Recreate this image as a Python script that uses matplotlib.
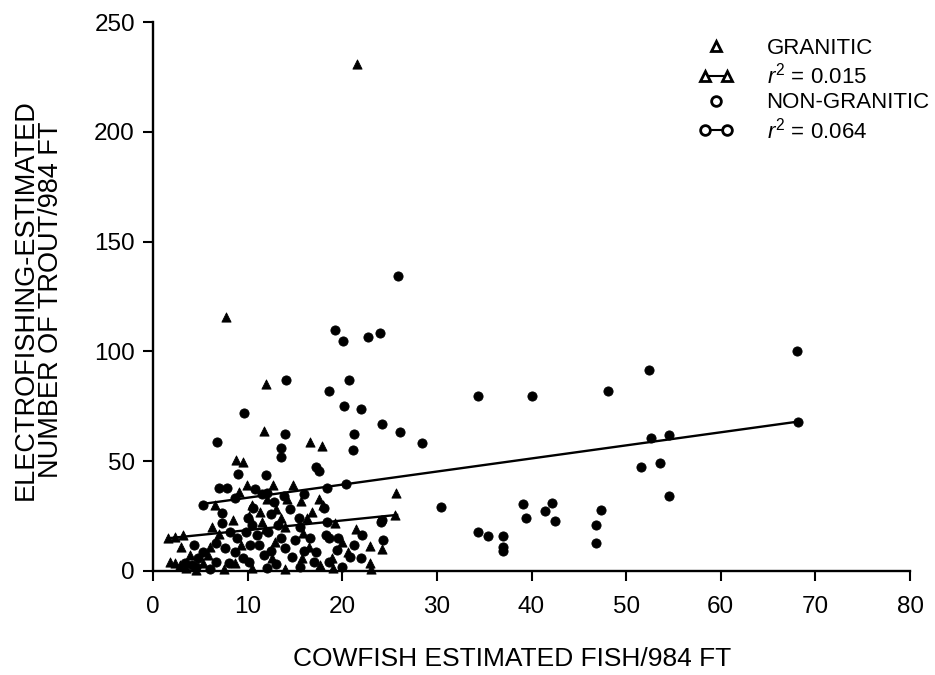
import numpy as np
import matplotlib
matplotlib.use("Agg")
import matplotlib.pyplot as plt
from matplotlib.lines import Line2D
from matplotlib.legend_handler import HandlerLine2D

plt.rcParams['font.family'] = ['Liberation Sans', 'DejaVu Sans']
plt.rcParams['mathtext.fontset'] = 'custom'
plt.rcParams['mathtext.rm'] = 'Liberation Sans'
plt.rcParams['mathtext.it'] = 'Liberation Sans:italic'

# granitic streams (triangles): cowfish estimate, electrofishing estimate
granitic_x = [21.6, 7.7, 11.9, 11.7, 16.6, 17.9, 8.8, 9.5, 12.7, 14.8, 9.9, 9.1,
              15.6, 25.7, 6.6, 6.2, 2.3, 3.2, 3.0, 3.9, 5.8, 1.8, 2.3, 5.3, 2.9,
              8.7, 12.6, 15.8, 13.5, 16.3, 15.9, 11.5, 12.9, 22.9, 20.6, 17.7,
              22.9, 18.0, 25.6, 1.6, 7.5, 10.5, 14.0, 19.0, 23.0, 4.5, 3.5,
              10.5, 11.3, 12.0, 13.0, 14.2, 10.2, 14.0, 11.8, 16.8, 17.5, 19.2,
              20.0, 21.5, 24.2, 18.9, 16.5, 7.0, 8.5, 9.3, 6.0]
granitic_y = [231.0, 115.8, 85.0, 63.8, 58.9, 56.8, 50.5, 49.5, 39.0, 39.2, 39.2, 36.1,
              31.9, 35.5, 30.1, 20.2, 15.6, 16.4, 11.1, 7.3, 7.3, 4.2, 3.5, 3.5, 2.7,
              3.5, 5.8, 5.8, 24.0, 24.0, 17.2, 22.5, 13.4, 11.5, 8.8, 2.7,
              3.5, 30.1, 25.5, 14.9, 1.0, 1.5, 1.0, 1.5, 1.0, 0.5, 1.5,
              30.0, 27.0, 33.0, 28.0, 33.0, 25.0, 20.0, 19.0, 27.0, 33.0, 22.0,
              13.0, 19.0, 10.0, 6.0, 11.0, 17.0, 23.0, 12.0, 11.0]

# non-granitic streams (circles)
nongranitic_x = [25.9, 19.2, 20.1, 22.7, 24.0, 14.1, 20.7, 18.6, 9.6, 20.2, 22.0, 24.2,
                 26.1, 14.0, 6.8, 21.2, 21.1, 13.5, 13.5, 17.2, 17.5, 11.9, 9.0, 28.4,
                 68.1, 52.4, 34.3, 40.1, 48.1, 68.2, 52.6, 54.5, 51.6, 53.6, 54.5,
                 30.4, 39.1, 42.2, 39.4, 41.4, 42.5, 47.3, 46.8, 46.8, 34.3, 35.4,
                 37.0, 37.0, 37.0, 24.3, 24.2,
                 7.0, 7.8, 5.3, 7.3, 7.3, 8.1, 4.3, 5.3, 6.7, 7.6, 4.8, 3.4, 4.1,
                 6.7, 8.0, 4.6, 8.7, 12.8, 10.6, 15.4, 10.5, 9.8, 11.0, 12.2, 8.9,
                 10.3, 14.0, 15.0, 16.6, 8.7, 11.7, 14.7, 10.1, 17.0, 18.1, 18.4,
                 18.3, 18.6, 19.6, 22.1, 19.4, 21.2, 20.8, 17.2, 18.6, 18.4, 20.4,
                 24.1, 11.5, 12.5, 13.2, 14.5, 10.0, 11.2, 12.5, 13.5, 15.5, 16.0,
                 9.5, 13.0, 15.5, 12.0, 6.0, 20.0, 22.0, 10.8, 12.0, 13.8, 16.0]
nongranitic_y = [134.3, 109.7, 104.7, 106.7, 108.2, 86.8, 87.0, 82.0, 71.8, 75.3, 73.8, 67.1,
                 63.4, 62.2, 58.7, 62.4, 55.0, 56.0, 52.0, 47.5, 45.5, 43.7, 44.2, 58.5,
                 100.3, 91.5, 79.8, 79.8, 82.0, 68.0, 60.7, 61.9, 47.2, 49.0, 34.2,
                 29.0, 30.7, 31.0, 24.3, 27.5, 22.6, 27.6, 20.9, 12.8, 17.8, 15.9,
                 15.9, 11.0, 9.0, 14.1, 23.2,
                 37.7, 37.7, 30.1, 26.3, 21.7, 17.9, 11.8, 8.8, 12.6, 10.3, 5.8, 3.5, 2.7,
                 4.2, 3.5, 2.0, 33.1, 31.6, 28.5, 24.0, 21.0, 17.9, 16.4, 17.9, 14.9,
                 11.8, 10.3, 14.1, 14.9, 8.8, 7.3, 6.5, 4.2, 4.2, 28.5, 22.5,
                 16.4, 14.9, 14.9, 16.4, 9.6, 11.8, 6.5, 8.8, 4.2, 37.7, 39.5,
                 22.5, 35.0, 26.0, 21.0, 28.0, 24.0, 12.0, 9.0, 15.0, 20.0, 9.0,
                 6.0, 3.0, 2.0, 1.5, 1.0, 2.0, 6.0, 37.5, 35.5, 34.0, 35.0]

# regression lines (slope, intercept, x range) and labels
granitic_fit = (0.44, 14.2)
granitic_fit_range = [1.6, 25.8]
nongranitic_fit = (0.596, 27.4)
nongranitic_fit_range = [5.1, 68.2]
legend_labels = ['GRANITIC', '$\\mathit{r}^2$ = 0.015', 'NON-GRANITIC', '$\\mathit{r}^2$ = 0.064']

x_ticks = np.arange(0, 81, 10)
y_ticks = np.arange(0, 251, 50)

fig = plt.figure(figsize=(9.35, 6.75), dpi=100)
ax = fig.add_axes([0.1636, 0.1541, 0.8097, 0.8133])

ax.scatter(granitic_x, granitic_y, marker='^', s=44, c='black', linewidths=0.6,
           edgecolors='black', clip_on=False, zorder=3)
ax.scatter(nongranitic_x, nongranitic_y, marker='o', s=44, c='black', linewidths=0.6,
           edgecolors='black', clip_on=False, zorder=3)

for (slope, icpt), xr in [(granitic_fit, granitic_fit_range), (nongranitic_fit, nongranitic_fit_range)]:
    xs = np.array(xr)
    ax.plot(xs, slope * xs + icpt, color='black', lw=1.7, zorder=2)

ax.set_xlim(0, 80)
ax.set_ylim(0, 250)
ax.set_xticks(x_ticks)
ax.set_yticks(y_ticks)
ax.spines['top'].set_visible(False)
ax.spines['right'].set_visible(False)
for sp in ('left', 'bottom'):
    ax.spines[sp].set_linewidth(1.7)
ax.tick_params(direction='out', length=7, width=1.5, labelsize=17.5)
ax.tick_params(axis='x', pad=11)
ax.tick_params(axis='y', pad=6)

ax.set_xlabel('COWFISH ESTIMATED FISH/984 FT', fontsize=19)
ax.xaxis.set_label_coords(0.474, -0.139)
ax.set_ylabel('ELECTROFISHING-ESTIMATED\nNUMBER OF TROUT/984 FT', fontsize=19.5, linespacing=0.95)
ax.yaxis.set_label_coords(-0.118, 0.494)

# legend with open symbols
h_g = Line2D([], [], marker='^', ls='none', color='black', mfc='white', mew=2, ms=7)
h_gl = Line2D([], [], marker='^', ls='-', color='black', mfc='white', mew=2, ms=7, lw=1.5)
h_n = Line2D([], [], marker='o', ls='none', color='black', mfc='white', mew=2, ms=7)
h_nl = Line2D([], [], marker='o', ls='-', color='black', mfc='white', mew=2, ms=7, lw=1.5)
leg = ax.legend([h_g, h_gl, h_n, h_nl], legend_labels, loc='upper left',
                bbox_to_anchor=(0.720, 0.971), frameon=False, fontsize=16,
                numpoints=2, handlelength=1.58, handletextpad=1.5, labelspacing=0.17,
                borderpad=0, borderaxespad=0,
                handler_map={h_g: HandlerLine2D(numpoints=1), h_n: HandlerLine2D(numpoints=1)})

fig.savefig('out.png', dpi=100)
